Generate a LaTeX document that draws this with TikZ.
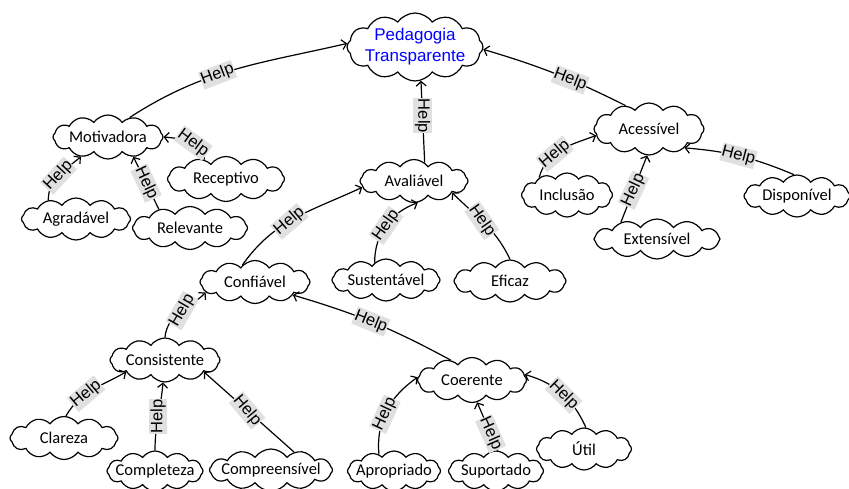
\documentclass[tikz,border=0pt]{standalone}
\usepackage{fontspec}
\setmainfont{Carlito}
\newfontfamily\arialf{Liberation Sans}
\usetikzlibrary{shapes.symbols,arrows.meta}
\definecolor{lblgray}{RGB}{224,224,224}
\definecolor{pedblue}{RGB}{0,0,255}
\newcommand\ctext[1]{\makebox[0pt]{#1}}
\begin{document}
\begin{tikzpicture}[x=1pt,y=-1pt,
  cl/.style={cloud, draw, cloud puffs=12, cloud puff arc=110, cloud ignores aspect,
    inner sep=0pt, line width=1.2pt, font=\fontsize{16.5}{20}\selectfont},
  edge/.style={line width=1.2pt, -{Straight Barb[length=4.5pt,width=10pt]}},
  lbl/.style={fill=lblgray, inner xsep=0.5pt, inner ysep=1.5pt,
    font=\arialf\fontsize{16.5}{20}\selectfont}
]
\useasboundingbox (0,0) rectangle (849,489);

% nodes
\node[cl, minimum width=136pt, minimum height=68pt, text=pedblue,
  font=\arialf\fontsize{17}{20.5}\selectfont] (ped) at (415,47)
  {\ctext{\begin{tabular}{@{}c@{}}Pedagogia\\Transparente\end{tabular}}};
\node[cl, minimum width=110pt, minimum height=44pt] (mot) at (108,137) {\ctext{Motivadora}};
\node[cl, minimum width=117pt, minimum height=45pt] (rec) at (226,179) {\ctext{Receptivo}};
\node[cl, minimum width=109pt, minimum height=42pt] (agr) at (76,219) {\ctext{Agradável}};
\node[cl, minimum width=115pt, minimum height=43pt] (rel) at (190,228) {\ctext{Relevante}};
\node[cl, minimum width=108pt, minimum height=43pt] (ava) at (414,181) {\ctext{Avaliável}};
\node[cl, minimum width=108pt, minimum height=42pt] (sus) at (386,280) {\ctext{Sustentável}};
\node[cl, minimum width=112pt, minimum height=42pt] (eff) at (510,281) {\ctext{Eficaz}};
\node[cl, minimum width=110pt, minimum height=43pt] (conf) at (255,282) {\ctext{Confiável}};
\node[cl, minimum width=110pt, minimum height=52pt] (acc) at (649,129) {\ctext{Acessível}};
\node[cl, minimum width=91pt, minimum height=44pt] (inc) at (567,195) {\ctext{Inclusão}};
\node[cl, minimum width=126pt, minimum height=40pt] (ext) at (657,239) {\ctext{Extensível}};
\node[cl, minimum width=106pt, minimum height=42pt] (disp) at (797,196) {\ctext{Disponível}};
\node[cl, minimum width=110pt, minimum height=44pt] (cons) at (165,360) {\ctext{Consistente}};
\node[cl, minimum width=109pt, minimum height=45pt] (coer) at (472,380) {\ctext{Coerente}};
\node[cl, minimum width=108pt, minimum height=43pt] (clar) at (64,438) {\ctext{Clareza}};
\node[cl, minimum width=96pt, minimum height=40pt] (comp) at (155,471) {\ctext{Completeza}};
\node[cl, minimum width=123pt, minimum height=42pt] (compr) at (271,470) {\ctext{Compreensível}};
\node[cl, minimum width=93pt, minimum height=40pt] (apr) at (394,471) {\ctext{Apropriado}};
\node[cl, minimum width=95pt, minimum height=40pt] (sup) at (496,471) {\ctext{Suportado}};
\node[cl, minimum width=95pt, minimum height=42pt] (util) at (584,449) {\ctext{Útil}};

% connectors
\draw[edge] (mot.42) to[out=33, in=193] node[lbl, pos=0.42, rotate=21] {Help} (ped.177);
\draw[edge] (ava.60) -- node[lbl, pos=0.57, rotate=-90] {Help} (ped.-80);
\draw[edge] (acc.135) to[bend right=5] node[lbl, pos=0.39, rotate=-21] {Help} (ped.-2);
\draw[edge] (agr.146) to[out=90, in=220] node[lbl, pos=0.5, rotate=47] {Help} (mot.216);
\draw[edge] (rel.149) -- node[lbl, pos=0.5, rotate=-65] {Help} (mot.-38);
\draw[edge] (rec.138) to[out=90, in=-5] node[lbl, pos=0.45, rotate=-36] {Help} (mot.0);
\draw[edge] (conf.127) to[out=55, in=205] node[lbl, pos=0.45, rotate=40] {Help} (ava.187);
\draw[edge] (sus.123) to[out=90, in=200] node[lbl, pos=0.5, rotate=55] {Help} (ava.-80);
\draw[edge] (eff.90) to[out=115, in=-45] node[lbl, pos=0.55, rotate=-55] {Help} (ava.-17);
\draw[edge] (cons.90) to[out=85, in=225] node[lbl, pos=0.55, rotate=60] {Help} (conf.192);
\draw[edge] (coer.137) to[bend right=6] node[lbl, pos=0.52, rotate=-22] {Help} (conf.-19);
\draw[edge] (clar.85) to[out=60, in=210] node[lbl, pos=0.4, rotate=40] {Help} (cons.197);
\draw[edge] (comp.90) to[out=90, in=265] node[lbl, pos=0.5, rotate=90] {Help} (cons.-95);
\draw[edge] (compr.38) -- node[lbl, pos=0.52, rotate=-50] {Help} (cons.-17);
\draw[edge] (apr.132) to[out=95, in=215] node[lbl, pos=0.45, rotate=65] {Help} (coer.177);
\draw[edge] (sup.85) -- node[lbl, pos=0.35, rotate=-66] {Help} (coer.-77);
\draw[edge] (util.85) to[bend right=25] node[lbl, pos=0.47, rotate=-45] {Help} (coer.6);
\draw[edge] (inc.148) to[out=75, in=200] node[lbl, pos=0.4, rotate=40] {Help} (acc.187);
\draw[edge] (ext.155) -- node[lbl, pos=0.48, rotate=65] {Help} (acc.-94);
\draw[edge] (disp.98) to[bend right=9] node[lbl, pos=0.52, rotate=-15] {Help} (acc.-28);
\end{tikzpicture}
\end{document}
